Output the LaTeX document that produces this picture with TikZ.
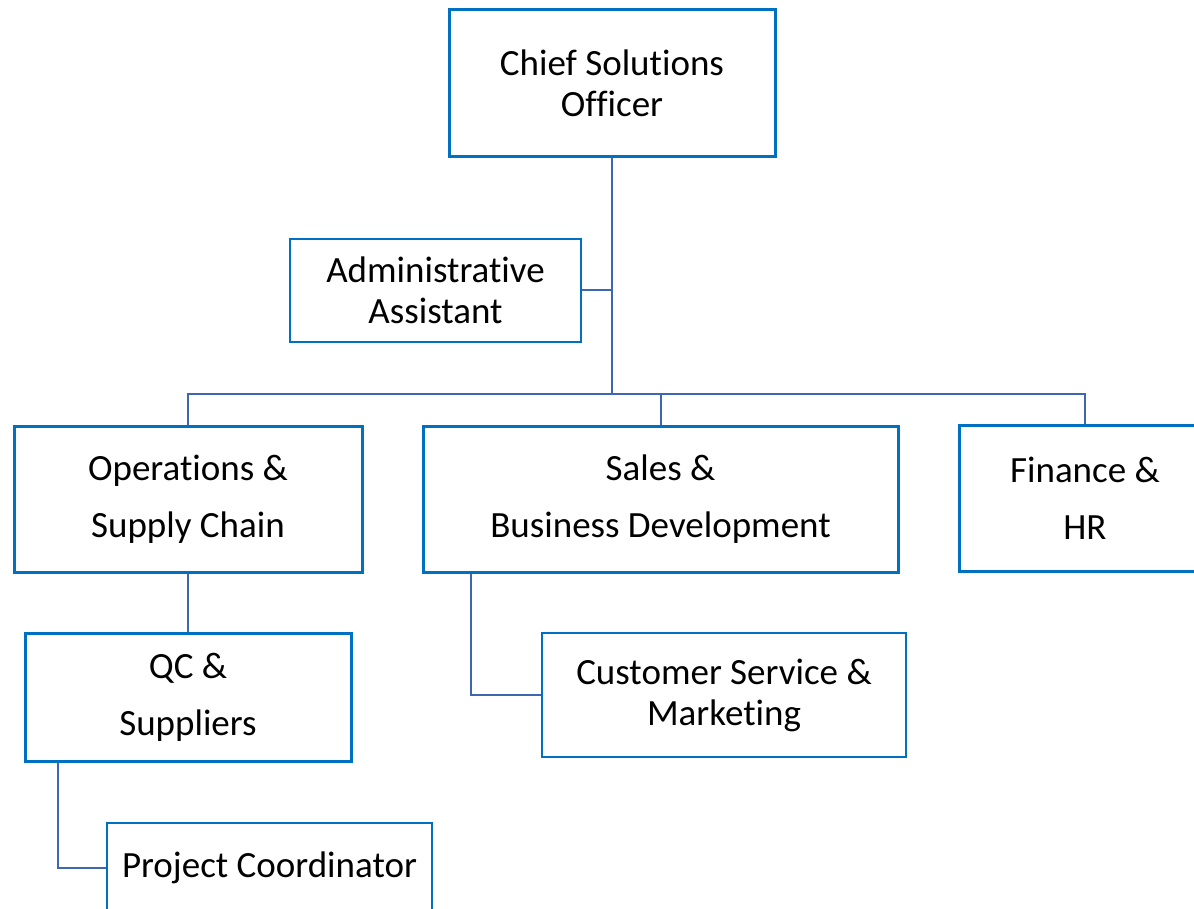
\documentclass[tikz,border=0pt]{standalone}
\usepackage{fontspec}
\setmainfont{Carlito}[Ligatures=NoCommon,RawFeature={-liga;-clig;-dlig}]
\definecolor{boxblue}{HTML}{0070C0}
\definecolor{linkblue}{HTML}{3F66B0}
\begin{document}
\begin{tikzpicture}[x=0.5pt,y=-0.5pt,
  unit/.style={draw=boxblue,line width=1.5pt,align=center,inner sep=0pt,
    font=\fontsize{18.5}{20.5}\selectfont},
  loose/.style={font=\fontsize{18.5}{28.5}\selectfont},
  thinbox/.style={line width=1pt},
  link/.style={draw=linkblue,line width=1pt}]
\useasboundingbox (0,0) rectangle (1194,909);
\node[unit,minimum width=163pt,minimum height=73.5pt] (cso) at (612,83.5) {Chief Solutions\\Officer};
\node[unit,thinbox,minimum width=145.5pt,minimum height=51.5pt] (admin) at (435.5,290.5) {Administrat\kern0pt ive\\Assistant};
\node[unit,loose,minimum width=174pt,minimum height=73pt] (ops) at (188,499) {Operations \&\\Supply Chain};
\node[unit,loose,minimum width=237.5pt,minimum height=73pt] (sales) at (660.5,499) {Sales \&\\Business Development};
\node[unit,loose,minimum width=126pt,minimum height=73pt] (fin) at (1085,498) {Finance \&\\HR};
\node[unit,loose,minimum width=163pt,minimum height=64pt] (qc) at (188,697) {QC \&\\Suppliers};
\node[unit,thinbox,minimum width=182pt,minimum height=62pt] (cust) at (724,695) {Customer Service \&\\Marketing};
\node[unit,thinbox,minimum width=162.5pt,minimum height=45pt] (proj) at (269.5,868) {Project Coordinator};
% lines
\coordinate (bus) at (612,394);
\draw[link] (cso.south) -- (bus);
\draw[link] (admin.east) -- (admin.east -| cso.south);
\draw[link] (ops.north) |- (bus) -| (fin.north);
\draw[link] (bus -| sales.north) -- (sales.north);
\draw[link] (ops.south) -- (qc.north);
\draw[link] (sales.south west) ++(49,0) |- (cust.west);
\draw[link] (qc.south west) ++(34,0) |- (proj.west);
\end{tikzpicture}
\end{document}
